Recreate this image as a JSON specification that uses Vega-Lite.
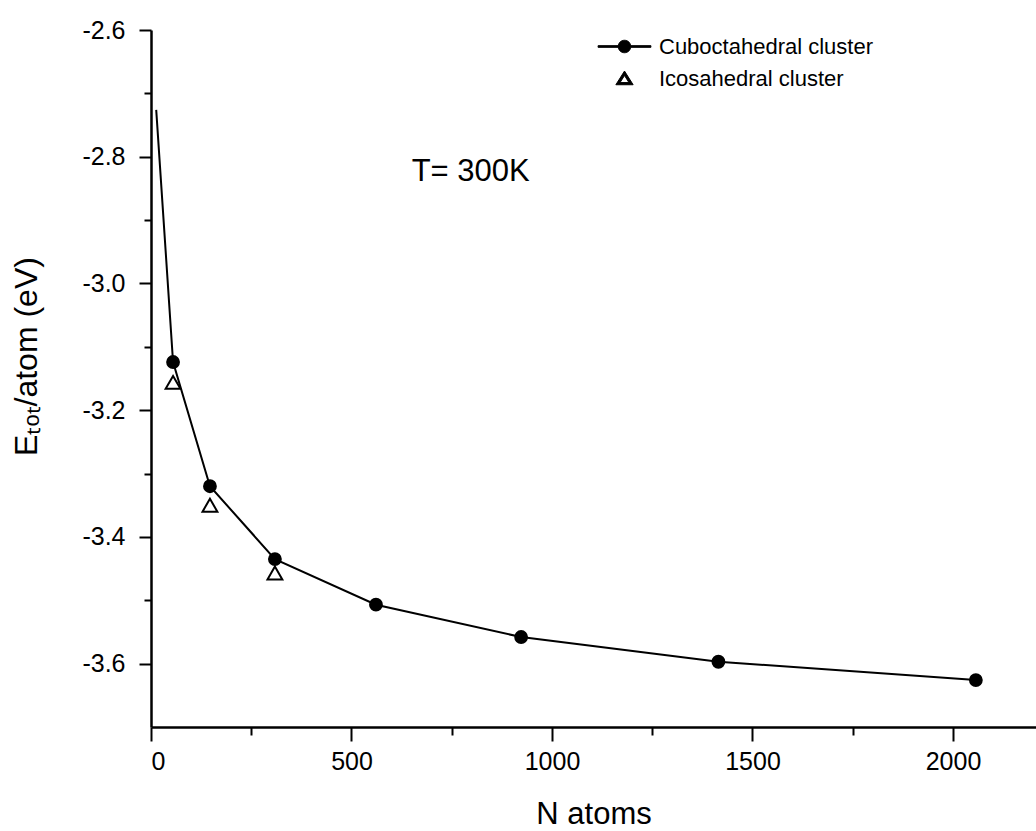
{
  "$schema": "https://vega.github.io/schema/vega-lite/v6.json",
  "width": 885,
  "height": 697,
  "autosize": {"type": "none"},
  "padding": {"left": 151, "top": 30, "right": 0, "bottom": 104},
  "background": "white",
  "config": {
    "view": {"stroke": null}
  },
  "data": {
    "values": [
      {"n": 13, "e": -2.726, "series": "Cuboctahedral cluster"},
      {"n": 55, "e": -3.124, "series": "Cuboctahedral cluster"},
      {"n": 147, "e": -3.32, "series": "Cuboctahedral cluster"},
      {"n": 309, "e": -3.435, "series": "Cuboctahedral cluster"},
      {"n": 561, "e": -3.507, "series": "Cuboctahedral cluster"},
      {"n": 923, "e": -3.558, "series": "Cuboctahedral cluster"},
      {"n": 1415, "e": -3.597, "series": "Cuboctahedral cluster"},
      {"n": 2057, "e": -3.626, "series": "Cuboctahedral cluster"},
      {"n": 55, "e": -3.156, "series": "Icosahedral cluster"},
      {"n": 147, "e": -3.35, "series": "Icosahedral cluster"},
      {"n": 309, "e": -3.457, "series": "Icosahedral cluster"}
    ]
  },
  "encoding": {
    "x": {
      "field": "n",
      "type": "quantitative",
      "scale": {"domain": [0, 2207], "nice": false, "zero": false},
      "axis": {
        "values": [0, 250, 500, 750, 1000, 1250, 1500, 1750, 2000],
        "format": "d",
        "labelExpr": "datum.value % 500 === 0 ? datum.label : ''",
        "tickSize": {"condition": {"test": "datum.value % 500 === 0", "value": 14}, "value": 8},
        "labelPadding": 8,
        "labelFont": "Liberation Sans",
        "labelFontSize": 25,
        "labelColor": "black",
        "domainColor": "black",
        "domainWidth": 2.5,
        "tickColor": "black",
        "tickWidth": 2,
        "grid": false,
        "title": "N atoms",
        "titleFont": "Liberation Sans",
        "titleFontSize": 31,
        "titleFontWeight": "normal",
        "titleColor": "black",
        "titlePadding": 25
      }
    },
    "y": {
      "field": "e",
      "type": "quantitative",
      "scale": {"domain": [-3.7, -2.6], "nice": false, "zero": false},
      "axis": {
        "values": [-2.6, -2.7, -2.8, -2.9, -3.0, -3.1, -3.2, -3.3, -3.4, -3.5, -3.6],
        "labelExpr": "abs(round(datum.value * 10)) % 2 === 0 ? replace(format(datum.value, '.1f'), '\u2212', '-') : ''",
        "tickSize": {"condition": {"test": "abs(round(datum.value * 10)) % 2 === 0", "value": 12}, "value": 7},
        "labelPadding": 14,
        "labelFont": "Liberation Sans",
        "labelFontSize": 25,
        "labelColor": "black",
        "domainColor": "black",
        "domainWidth": 2.5,
        "tickColor": "black",
        "tickWidth": 2,
        "grid": false,
        "title": "E\u209c\u2092\u209c/atom (eV)",
        "titleFont": "Liberation Sans",
        "titleFontSize": 32,
        "titleFontWeight": "normal",
        "titleColor": "black",
        "titleX": -108,
        "titleY": 326,
        "titleBaseline": "bottom"
      }
    }
  },
  "layer": [
    {
      "transform": [{"filter": "datum.series === 'Cuboctahedral cluster'"}],
      "mark": {"type": "line", "color": "black", "strokeWidth": 2, "interpolate": "linear"}
    },
    {
      "transform": [{"filter": "datum.n > 13"}],
      "mark": {"type": "point", "stroke": "black", "strokeWidth": 2, "opacity": 1},
      "encoding": {
        "shape": {
          "condition": {"test": "datum.series === 'Cuboctahedral cluster'", "value": "circle"},
          "value": "triangle-up"
        },
        "fill": {
          "condition": {"test": "datum.series === 'Cuboctahedral cluster'", "value": "black"},
          "value": "white"
        },
        "size": {
          "condition": {"test": "datum.series === 'Cuboctahedral cluster'", "value": 140},
          "value": 220
        }
      }
    },
    {
      "transform": [{"filter": "datum.n > 13"}],
      "mark": {"type": "point", "opacity": 0, "color": "black"},
      "encoding": {
        "shape": {
          "field": "series",
          "type": "nominal",
          "scale": {
            "domain": ["Cuboctahedral cluster", "Icosahedral cluster"],
            "range": [
              "M-2.2,-0.07H-0.5V0.07H-2.2ZM0.5,-0.07H2.2V0.07H0.5ZM-0.52,0A0.52,0.52 0 1,0 0.52,0A0.52,0.52 0 1,0 -0.52,0Z",
              "M0,-0.62L0.72,0.52L-0.72,0.52ZM0,-0.25L-0.37,0.34L0.37,0.34Z"
            ]
          },
          "legend": {
            "orient": "none",
            "legendX": 461,
            "legendY": 4,
            "title": null,
            "padding": 0,
            "symbolSize": 576,
            "symbolOpacity": 1,
            "symbolStrokeWidth": 1,
            "labelFontSize": 22,
            "labelFont": "Liberation Sans",
            "labelColor": "black",
            "labelLimit": 500,
            "labelOffset": 22,
            "rowPadding": 8
          }
        },
        "fill": {
          "field": "series",
          "type": "nominal",
          "scale": {"domain": ["Cuboctahedral cluster", "Icosahedral cluster"], "range": ["black", "black"]}
        }
      }
    },
    {
      "data": {"values": [{"n": 650, "e": -2.824, "label": "T= 300K"}]},
      "mark": {"type": "text", "align": "left", "baseline": "middle", "fontSize": 31, "font": "Liberation Sans", "color": "black"},
      "encoding": {"text": {"field": "label"}}
    }
  ]
}
